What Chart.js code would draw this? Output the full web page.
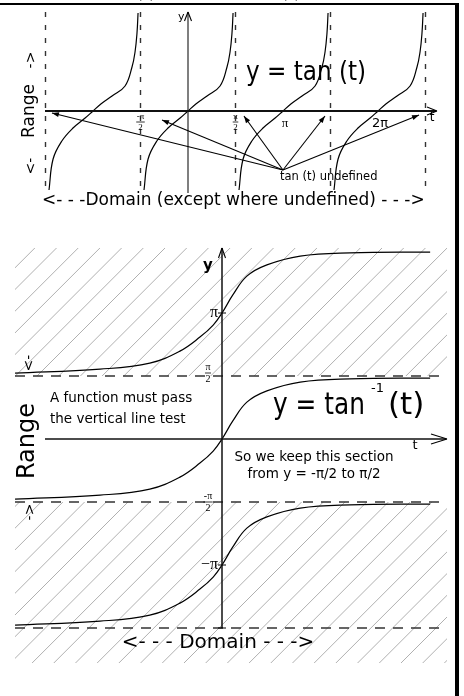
<!DOCTYPE html>
<html>
<head>
<meta charset="utf-8">
<script src="https://cdn.jsdelivr.net/npm/chart.js@4.4.0/dist/chart.umd.min.js"></script>
<style>
	body { margin: 0; background: #fff; width: 464px; height: 696px; overflow: hidden; position: relative; }
	canvas { position: absolute; left: 0; }
	#chart-tan { top: 0; }
	#chart-atan { top: 232px; }
	#frame { position: absolute; left: -6px; top: 3px; width: 461px; height: 700px; border-top: 2px solid #000; border-right: 4px solid #000; }
</style>
</head>
<body>
<canvas id="chart-tan" width="464" height="232"></canvas>
<canvas id="chart-atan" width="464" height="464"></canvas>
<div id="frame"></div>
<script>
const PI = Math.PI;

// y = tan(t): one period as drawn in the sketch (offset from branch centre, value)
const TAN_OFFSETS = [-1.455, -1.32, -1.03, -0.66, -0.26, 0, 0.26, 0.63, 1.06, 1.29, 1.39, 1.455, 1.49];
const TAN_VALUES = [-7.9, -4.8, -3.0, -1.7, -0.7, 0, 0.7, 1.5, 2.5, 4.4, 5.9, 7.8, 9.8];
const TAN_CENTERS = [-PI, 0, PI, 2 * PI];
const TAN_ASYMPTOTES = [-1.5 * PI, -0.5 * PI, 0.5 * PI, 1.5 * PI, 2.5 * PI];
const TAN_TICKS = [-PI / 2, PI / 2, PI, 2 * PI];
const TAN_TICK_LABELS = ["-π/2", "π/2", "π", "2π"];
// arrows "tan (t) undefined": start point and targets (t, y)
const UNDEFINED_FROM = [3.14, -5.9];
const UNDEFINED_TO_T = [-4.5, -0.86, 1.85, 4.53, 7.64];
const UNDEFINED_TO_Y = [-0.2, -0.9, -0.5, -0.5, -0.4];

// y = tan^-1(t) sketch: one branch, repeated every pi
const ATAN_OFFSETS = [-5.16, -3.04, -1.8, -1.05, -0.55, -0.22, 0, 0.27, 0.62, 1.12, 1.95, 3.19, 5.19];
const ATAN_VALUES = [-1.5, -1.4, -1.25, -0.95, -0.6, -0.3, 0, 0.45, 0.92, 1.2, 1.42, 1.5, 1.52];
const ATAN_CENTERS = [PI, 0, -PI];
const RANGE_LIMITS = [PI / 2, -PI / 2, -1.5 * PI];
const ATAN_TICKS = [PI, PI / 2, -PI / 2, -PI];
const ATAN_TICK_LABELS = ["π", "π/2", "-π/2", "-π"];

const FONT = '"DejaVu Sans", sans-serif';
const SERIF = '"Liberation Serif", serif';

//---------------------------------------------------------
// Drawing helpers
//---------------------------------------------------------
const label = (ctx, s, x, y, size, opts = {}) => {
	ctx.save();
	ctx.font = (opts.weight || "normal") + " " + size + "px " + (opts.family || FONT);
	ctx.fillStyle = "#000";
	ctx.textAlign = opts.align || "left";
	ctx.textBaseline = opts.baseline || "middle";
	ctx.translate(x, y);
	if (opts.rotate) ctx.rotate(opts.rotate);
	if (opts.maxWidth) ctx.fillText(s, 0, 0, opts.maxWidth);
	else ctx.fillText(s, 0, 0);
	ctx.restore();
};

const frac = (ctx, num, den, x, y, size) => {
	ctx.save();
	ctx.font = size + "px " + SERIF;
	const w = Math.max(ctx.measureText(num).width, ctx.measureText(den).width) + 1;
	ctx.restore();
	label(ctx, num, x, y - size * 0.55, size, { align: "center", family: SERIF });
	label(ctx, den, x, y + size * 0.62, size, { align: "center", family: SERIF });
	ctx.save();
	ctx.strokeStyle = "#000";
	ctx.lineWidth = 0.8;
	ctx.beginPath();
	ctx.moveTo(x - w / 2, y);
	ctx.lineTo(x + w / 2, y);
	ctx.stroke();
	ctx.restore();
};

const tickLabel = (ctx, s, x, y, fracSize, size) => {
	const parts = s.split("/");
	if (parts.length === 2) frac(ctx, parts[0], parts[1], x, y, fracSize);
	else label(ctx, s, x, y, size, { align: "center", family: SERIF });
};

const line = (ctx, x1, y1, x2, y2, width, color) => {
	ctx.save();
	ctx.strokeStyle = color || "#000";
	ctx.lineWidth = width;
	ctx.beginPath();
	ctx.moveTo(x1, y1);
	ctx.lineTo(x2, y2);
	ctx.stroke();
	ctx.restore();
};

const chevron = (ctx, x, y, dir, len, half, width) => {
	// open arrow head, dir "up" or "right"
	if (dir === "up") {
		line(ctx, x - half, y + len, x, y, width);
		line(ctx, x + half, y + len, x, y, width);
	} else {
		line(ctx, x - len, y - half, x, y, width);
		line(ctx, x - len, y + half, x, y, width);
	}
};

const arrow = (ctx, x1, y1, x2, y2) => {
	line(ctx, x1, y1, x2, y2, 1.1);
	const a = Math.atan2(y2 - y1, x2 - x1);
	ctx.save();
	ctx.fillStyle = "#000";
	ctx.beginPath();
	ctx.moveTo(x2, y2);
	ctx.lineTo(x2 - 7 * Math.cos(a) + 2.5 * Math.sin(a), y2 - 7 * Math.sin(a) - 2.5 * Math.cos(a));
	ctx.lineTo(x2 - 7 * Math.cos(a) - 2.5 * Math.sin(a), y2 - 7 * Math.sin(a) + 2.5 * Math.cos(a));
	ctx.closePath();
	ctx.fill();
	ctx.restore();
};

const curve = (offsets, values, center, shiftY) => ({
	data: offsets.map((o, i) => (shiftY ? { x: o, y: values[i] + center } : { x: o + center, y: values[i] })),
	showLine: true,
	borderColor: "#000",
	borderWidth: 1.2,
	pointRadius: 0,
	tension: 0.4,
});

const dashed = (pts, dash) => ({
	data: pts,
	showLine: true,
	borderColor: "#333",
	borderWidth: 1.4,
	borderDash: dash,
	pointRadius: 0,
});

const baseOptions = (xmin, xmax, ymin, ymax) => ({
	responsive: false,
	animation: false,
	events: [],
	layout: { padding: 0 },
	scales: {
		x: { type: "linear", display: false, min: xmin, max: xmax },
		y: { type: "linear", display: false, min: ymin, max: ymax },
	},
	plugins: { legend: { display: false }, tooltip: { enabled: false } },
});

//---------------------------------------------------------
// Top chart: y = tan(t)
//---------------------------------------------------------
const TOP_PX_PER_T = 95 / PI;
const TOP_PX_PER_Y = 10;

const tanDecor = {
	id: "tanDecor",
	afterDatasetsDraw(chart) {
		const { ctx, scales: { x, y } } = chart;
		const x0 = x.getPixelForValue(0);
		const y0 = y.getPixelForValue(0);

		// axes
		line(ctx, x0, 12, x0, 193, 1.5, "#555");
		chevron(ctx, x0, 12, "up", 9, 3.5, 1.1);
		line(ctx, 45, y0, 436, y0, 2, "#111");
		chevron(ctx, 437, y0, "right", 10, 4, 1.1);
		label(ctx, "y", x0 - 10, 17, 11);
		label(ctx, "t", 432, y0 + 7, 12, { align: "center" });

		// cut-off title bits at the very top
		label(ctx, "(t)", 146, -2, 16, { align: "center", baseline: "alphabetic" });
		label(ctx, "(t)", 291, -2, 16, { align: "center", baseline: "alphabetic" });

		TAN_TICKS.forEach((v, i) => {
			const s = TAN_TICK_LABELS[i];
			const px = x.getPixelForValue(v);
			if (s.includes("/")) tickLabel(ctx, s, px, y0 + 11, 9, 12);
			else label(ctx, s, px + 2, y0 + 13, 13, { align: "center", family: s.length > 1 ? FONT : SERIF });
		});

		const fx = x.getPixelForValue(UNDEFINED_FROM[0]);
		const fy = y.getPixelForValue(UNDEFINED_FROM[1]);
		UNDEFINED_TO_T.forEach((t, i) => {
			arrow(ctx, fx, fy, x.getPixelForValue(t), y.getPixelForValue(UNDEFINED_TO_Y[i]));
		});

		label(ctx, "y = tan (t)", 246, 73, 26, { maxWidth: 120 });
		label(ctx, "tan (t) undefined", 280, 177, 11.5, { maxWidth: 104 });
		label(ctx, "<- - -Domain (except where undefined) - - ->", 42, 201, 17, { maxWidth: 386 });
		label(ctx, "Range", 30, 111, 17, { align: "center", rotate: -PI / 2 });
		label(ctx, "->", 31, 60, 14, { align: "center", rotate: -PI / 2 });
		label(ctx, "<-", 31, 166, 14, { align: "center", rotate: -PI / 2 });
	},
};

new Chart(document.getElementById("chart-tan"), {
	type: "scatter",
	data: {
		datasets: [
			...TAN_CENTERS.map((c) => curve(TAN_OFFSETS, TAN_VALUES, c, false)),
			...TAN_ASYMPTOTES.map((a) => dashed([{ x: a, y: 9.9 }, { x: a, y: -8.1 }], [5, 8])),
		],
	},
	options: baseOptions(-188 / TOP_PX_PER_T, 276 / TOP_PX_PER_T, -(232 - 111) / TOP_PX_PER_Y, 111 / TOP_PX_PER_Y),
	plugins: [tanDecor],
});

//---------------------------------------------------------
// Bottom chart: y = tan^-1(t)
//---------------------------------------------------------
const BOT_PX = 126 / PI;
const OFF = 232;

const atanDecor = {
	id: "atanDecor",
	beforeDatasetsDraw(chart) {
		const { ctx, scales: { y } } = chart;
		const bands = [
			[248 - OFF, y.getPixelForValue(RANGE_LIMITS[0])],
			[y.getPixelForValue(RANGE_LIMITS[1]), 663 - OFF],
		];
		ctx.save();
		ctx.strokeStyle = "#b0b0b0";
		ctx.lineWidth = 1;
		bands.forEach(([top, bottom]) => {
			ctx.save();
			ctx.beginPath();
			ctx.rect(15, top, 432, bottom - top);
			ctx.clip();
			ctx.beginPath();
			for (let k = -500; k < 900; k += 21.7) {
				ctx.moveTo(k, 464);
				ctx.lineTo(k + 464, 0);
			}
			ctx.stroke();
			ctx.restore();
		});
		ctx.restore();
	},
	afterDatasetsDraw(chart) {
		const { ctx, scales: { x, y } } = chart;
		const x0 = x.getPixelForValue(0);
		const y0 = y.getPixelForValue(0);

		// axes
		line(ctx, x0, 248 - OFF, x0, 628 - OFF, 1.5, "#111");
		chevron(ctx, x0, 248 - OFF, "up", 10, 3.5, 1.1);
		line(ctx, 45, y0, 446, y0, 1.5, "#111");
		chevron(ctx, 447, y0, "right", 16, 5, 1.1);
		label(ctx, "y", 208, 266 - OFF, 15, { weight: "bold", align: "center" });
		label(ctx, "t", 415, y0 + 7, 13, { align: "center" });

		ATAN_TICKS.forEach((v, i) => {
			const s = ATAN_TICK_LABELS[i];
			const py = y.getPixelForValue(v);
			if (s.includes("/")) {
				tickLabel(ctx, s, x0 - 14, py + (v > 0 ? -3 : 0), 10, 14);
			} else {
				line(ctx, x0 - 4, py, x0 + 4, py, 1);
				label(ctx, s.replace("-", "−"), x0 - 4, py, 16, { align: "right", family: SERIF });
			}
		});
		line(ctx, x0 - 4, y.getPixelForValue(RANGE_LIMITS[2]), x0 + 4, y.getPixelForValue(RANGE_LIMITS[2]), 1);

		label(ctx, "A function must pass", 50, 398 - OFF, 13.5, { maxWidth: 160 });
		label(ctx, "the vertical line test", 50, 419 - OFF, 13.5, { maxWidth: 160 });
		label(ctx, "Range", 28, 441 - OFF, 24, { align: "center", rotate: -PI / 2 });
		label(ctx, "<-", 29, 363 - OFF, 14, { align: "center", rotate: -PI / 2 });
		label(ctx, "->", 30, 512 - OFF, 14, { align: "center", rotate: -PI / 2 });

		label(ctx, "y = tan", 273, 414 - OFF, 31, { baseline: "alphabetic", maxWidth: 92 });
		label(ctx, "-1", 371, 389 - OFF, 13);
		label(ctx, "(t)", 388, 414 - OFF, 31, { baseline: "alphabetic", maxWidth: 42 });

		label(ctx, "So we keep this section", 314, 457 - OFF, 13.5, { align: "center", maxWidth: 172 });
		label(ctx, "from y = -π/2 to π/2", 314, 474 - OFF, 13.5, { align: "center", maxWidth: 152 });

		label(ctx, "<- - - Domain - - ->", 218, 643 - OFF, 20, { align: "center", maxWidth: 210 });
	},
};

const atanSets = ATAN_CENTERS.map((c) => curve(ATAN_OFFSETS, ATAN_VALUES, c, true));
const limitSets = RANGE_LIMITS.map((v) => dashed([{ x: -207 / BOT_PX, y: v }, { x: 225 / BOT_PX, y: v }], [10, 8]));

new Chart(document.getElementById("chart-atan"), {
	type: "scatter",
	data: { datasets: [...limitSets, ...atanSets] },
	options: baseOptions(-222 / BOT_PX, 242 / BOT_PX, -(464 - (439 - OFF)) / BOT_PX, (439 - OFF) / BOT_PX),
	plugins: [atanDecor],
});
</script>
</body>
</html>
